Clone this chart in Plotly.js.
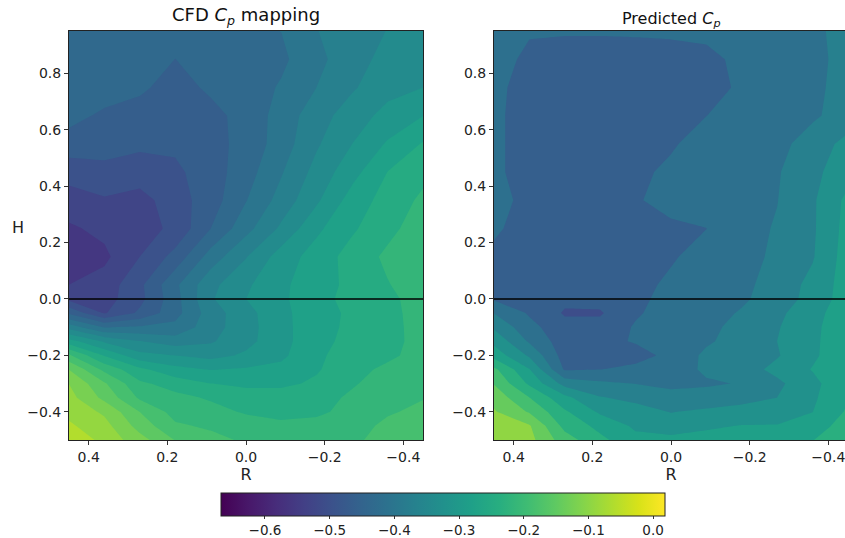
<!DOCTYPE html>
<html>
<head>
<meta charset="utf-8">
<script src="https://cdn.plot.ly/plotly-3.0.1.min.js"></script>
<style>html,body{margin:0;padding:0;background:#fff;overflow:hidden;width:845px;height:538px}</style>
</head>
<body>
<div id="chart" style="width:848px;height:538px"></div>
<script>
var rValues = [0.45,0.36,0.27,0.18,0.09,0,-0.09,-0.18,-0.27,-0.36,-0.45];
var hValues = [0.95,0.85,0.75,0.65,0.55,0.45,0.35,0.25,0.15,0.05,0,-0.05,-0.1,-0.15,-0.2,-0.25,-0.3,-0.35,-0.4,-0.45,-0.5];

// one list per R value, running down the H values
var cfdCp = [
 [-.44,-.44,-.44,-.44,-.462,-.50,-.525,-.548,-.57,-.543,-.52,-.455,-.37,-.28,-.195,-.138,-.107,-.095,-.084,-.07,-.05],
 [-.43,-.43,-.435,-.455,-.465,-.492,-.515,-.535,-.55,-.53,-.525,-.515,-.42,-.33,-.265,-.208,-.165,-.146,-.112,-.095,-.085],
 [-.425,-.425,-.445,-.46,-.475,-.495,-.524,-.525,-.512,-.488,-.49,-.475,-.415,-.355,-.315,-.255,-.225,-.205,-.169,-.15,-.125],
 [-.425,-.45,-.46,-.465,-.475,-.487,-.495,-.505,-.47,-.425,-.43,-.43,-.41,-.372,-.325,-.283,-.245,-.222,-.212,-.195,-.17],
 [-.425,-.43,-.445,-.458,-.46,-.465,-.465,-.45,-.405,-.365,-.36,-.372,-.37,-.36,-.335,-.295,-.262,-.235,-.22,-.205,-.19],
 [-.425,-.43,-.435,-.44,-.44,-.432,-.42,-.398,-.358,-.33,-.325,-.335,-.336,-.334,-.32,-.29,-.268,-.25,-.235,-.215,-.205],
 [-.418,-.425,-.415,-.405,-.403,-.39,-.375,-.35,-.31,-.30,-.30,-.303,-.305,-.305,-.30,-.285,-.268,-.25,-.24,-.225,-.205],
 [-.388,-.395,-.387,-.37,-.36,-.345,-.33,-.30,-.28,-.275,-.27,-.272,-.27,-.27,-.268,-.265,-.258,-.245,-.238,-.22,-.215],
 [-.372,-.37,-.36,-.34,-.325,-.305,-.28,-.267,-.25,-.255,-.255,-.258,-.258,-.255,-.248,-.245,-.235,-.225,-.22,-.218,-.21],
 [-.355,-.345,-.335,-.315,-.29,-.262,-.25,-.24,-.225,-.233,-.24,-.243,-.245,-.245,-.24,-.222,-.215,-.21,-.205,-.19,-.18],
 [-.34,-.335,-.325,-.294,-.26,-.24,-.225,-.215,-.21,-.213,-.215,-.215,-.215,-.216,-.215,-.21,-.205,-.202,-.19,-.185,-.175]
];
var predictedCp = [
 [-.42,-.42,-.43,-.43,-.43,-.43,-.415,-.432,-.45,-.45,-.445,-.395,-.355,-.315,-.275,-.20,-.168,-.135,-.115,-.095,-.075],
 [-.435,-.45,-.455,-.46,-.46,-.46,-.46,-.46,-.465,-.465,-.46,-.445,-.425,-.40,-.355,-.30,-.265,-.21,-.17,-.115,-.105],
 [-.435,-.46,-.465,-.47,-.47,-.47,-.475,-.47,-.47,-.475,-.475,-.49,-.47,-.465,-.46,-.445,-.365,-.29,-.25,-.225,-.19],
 [-.435,-.46,-.465,-.47,-.47,-.47,-.47,-.47,-.47,-.47,-.47,-.49,-.47,-.455,-.45,-.44,-.385,-.345,-.31,-.27,-.245],
 [-.435,-.455,-.455,-.455,-.455,-.45,-.445,-.46,-.46,-.455,-.45,-.445,-.435,-.435,-.46,-.425,-.395,-.36,-.33,-.31,-.29],
 [-.435,-.45,-.445,-.45,-.445,-.43,-.42,-.45,-.445,-.43,-.425,-.42,-.415,-.41,-.425,-.42,-.40,-.385,-.35,-.325,-.29],
 [-.43,-.45,-.45,-.44,-.42,-.415,-.415,-.44,-.42,-.415,-.41,-.41,-.405,-.40,-.385,-.385,-.40,-.375,-.34,-.31,-.285],
 [-.42,-.43,-.435,-.42,-.415,-.41,-.41,-.41,-.41,-.405,-.40,-.39,-.38,-.375,-.37,-.37,-.391,-.36,-.335,-.30,-.275],
 [-.415,-.415,-.415,-.41,-.41,-.398,-.395,-.39,-.385,-.375,-.375,-.36,-.352,-.348,-.352,-.335,-.358,-.348,-.325,-.30,-.27],
 [-.405,-.405,-.405,-.402,-.37,-.36,-.355,-.355,-.352,-.335,-.33,-.315,-.31,-.31,-.31,-.30,-.315,-.31,-.303,-.28,-.258],
 [-.375,-.38,-.375,-.37,-.335,-.32,-.29,-.285,-.28,-.28,-.28,-.28,-.28,-.275,-.27,-.27,-.265,-.26,-.25,-.235,-.225]
];
var zeroLineR = [0.45,-0.45];
var zeroLineH = [0,0];
var cpRange = [-0.668,0.0185];
var cfdLevelStep = 0.0312;
var predictedLevelStep = 0.0457;
var tickH = [-0.4,-0.2,0,0.2,0.4,0.6,0.8];
var tickR = [0.4,0.2,0,-0.2,-0.4];

var W = 848, H = 538;
var font = 'DejaVu Sans, sans-serif';
function contour(z, step, xa, ya) {
  return {type:'contour', x:rValues, y:hValues, z:z, transpose:true, xaxis:xa, yaxis:ya,
    colorscale:'Viridis', zmin:cpRange[0], zmax:cpRange[1], showscale:false, hoverinfo:'skip',
    contours:{coloring:'fill', showlines:false, start:cpRange[0], end:cpRange[1], size:step},
    line:{width:0, smoothing:0}};
}
function zeroLine(xa, ya) {
  return {type:'scatter', mode:'lines', x:zeroLineR, y:zeroLineH, xaxis:xa, yaxis:ya,
    line:{color:'#000', width:1.6}, showlegend:false, hoverinfo:'skip'};
}
var scaleTrace = {type:'scatter', mode:'markers', x:[5,5], y:[5,5], showlegend:false, hoverinfo:'skip',
  marker:{size:1, color:cpRange, cmin:cpRange[0], cmax:cpRange[1], colorscale:'Viridis', showscale:true,
    colorbar:{orientation:'h', lenmode:'pixels', len:444, thicknessmode:'pixels', thickness:23,
      x:221/W, xanchor:'left', xpad:0, y:1-493/H, yanchor:'top', ypad:0,
      outlinewidth:1, outlinecolor:'#222', tick0:0, dtick:0.1, tickformat:'.1f', ticks:'outside', ticklen:3, tickwidth:1,
      tickcolor:'#333', tickfont:{family:font,size:13.5,color:'#222'}}}};
function xax(dom, title) {
  return {domain:dom, range:[0.45,-0.45], tickvals:tickR, tickformat:'.1f', ticks:'outside', ticklen:4, tickwidth:1,
    tickcolor:'#333', showgrid:false, zeroline:false, showline:true, mirror:true, linecolor:'#222', linewidth:1,
    tickfont:{family:font,size:14,color:'#222'}, title:{text:title, font:{family:font,size:16,color:'#222'}, standoff:3}};
}
function yax(anchor) {
  return {domain:[1-440/H,1-31/H], range:[-0.5,0.95], anchor:anchor, tickvals:tickH, tickformat:'.1f', ticks:'outside', ticklen:4, tickwidth:1,
    tickcolor:'#333', showgrid:false, zeroline:false, showline:true, mirror:true, linecolor:'#222', linewidth:1,
    tickfont:{family:font,size:14,color:'#222'}};
}
var layout = {
  width:W, height:H, margin:{l:0,r:0,t:0,b:0,autoexpand:false}, paper_bgcolor:'#fff', plot_bgcolor:'#fff', showlegend:false,
  xaxis:Object.assign(xax([69/W,423/W],'R'),{anchor:'y'}),
  yaxis:yax('x'),
  xaxis2:Object.assign(xax([494/W,848/W],'R'),{anchor:'y2'}),
  yaxis2:yax('x2'),
  annotations:[
    {text:'CFD <i>C</i><sub><i>p</i></sub> mapping', xref:'paper', yref:'paper', x:246/W, y:1-30/H, xanchor:'center', yanchor:'bottom', showarrow:false, font:{family:font,size:18,color:'#111'}},
    {text:'Predicted <i>C</i><sub><i>p</i></sub>', xref:'paper', yref:'paper', x:671/W, y:1-32/H, xanchor:'center', yanchor:'bottom', showarrow:false, font:{family:font,size:16,color:'#111'}},
    {text:'H', xref:'paper', yref:'paper', x:18/W, y:1-227/H, xanchor:'center', yanchor:'middle', showarrow:false, font:{family:font,size:16,color:'#222'}}
  ]
};
Plotly.newPlot('chart',[contour(cfdCp,cfdLevelStep,'x','y'),contour(predictedCp,predictedLevelStep,'x2','y2'),zeroLine('x','y'),zeroLine('x2','y2'),scaleTrace],layout,{displayModeBar:false,staticPlot:true});
</script>
</body>
</html>
